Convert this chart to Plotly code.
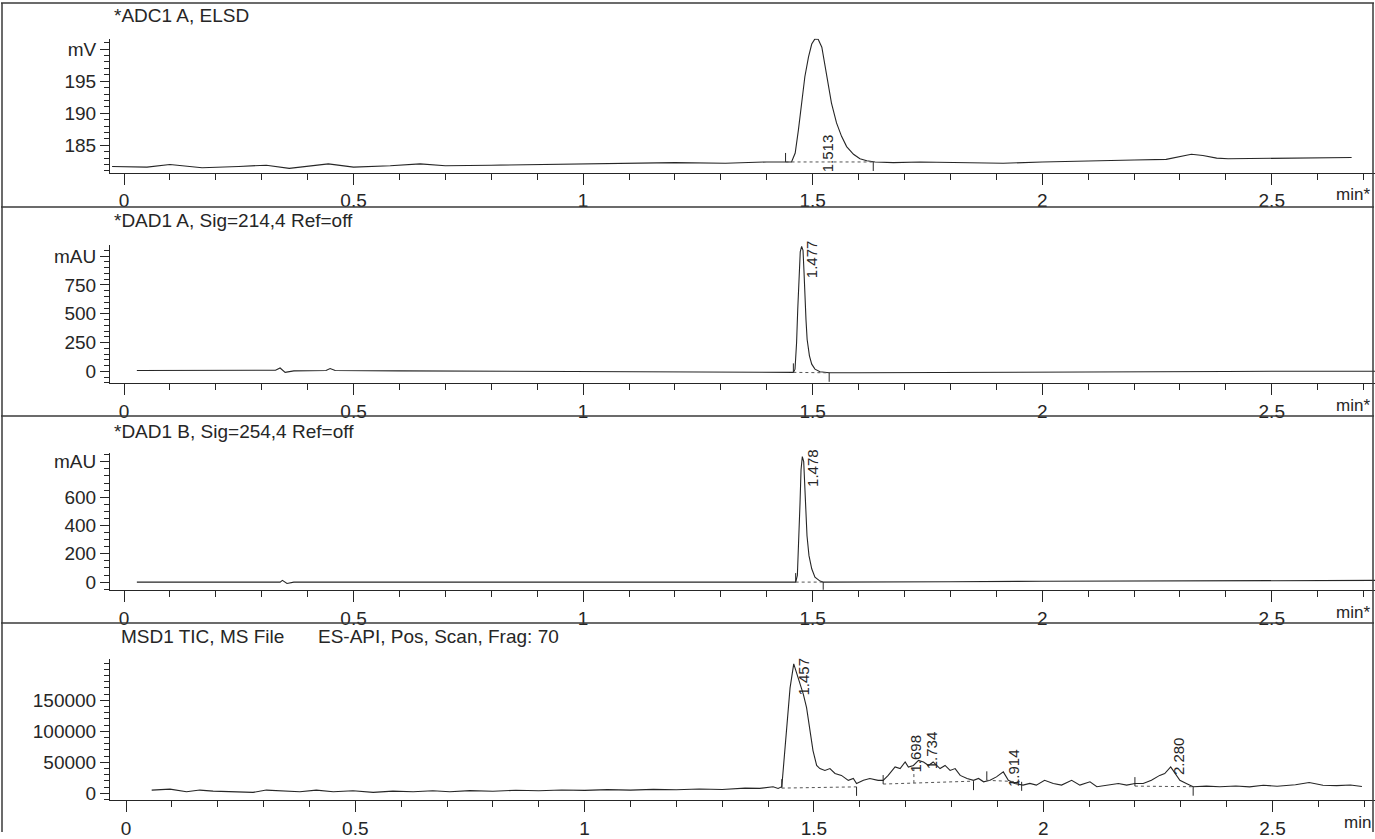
import plotly.graph_objects as go

W, H = 1375, 839

# ---------------- data ----------------
panel_titles = ["*ADC1 A, ELSD", "*DAD1 A, Sig=214,4 Ref=off", "*DAD1 B, Sig=254,4 Ref=off",
                "MSD1 TIC, MS File", "ES-API, Pos, Scan, Frag: 70"]

elsd_t = [-0.026, 0.05, 0.10, 0.17, 0.25, 0.31, 0.36, 0.445, 0.50, 0.58, 0.645, 0.70, 0.80, 0.90, 1.00,
          1.10, 1.20, 1.31, 1.40, 1.454, 1.462, 1.469, 1.476, 1.483, 1.491, 1.498, 1.505, 1.512, 1.520,
          1.527, 1.534, 1.541, 1.552, 1.563, 1.574, 1.589, 1.603, 1.618, 1.636, 1.676, 1.734, 1.80, 1.915,
          2.00, 2.10, 2.20, 2.27, 2.30, 2.325, 2.35, 2.38, 2.405, 2.50, 2.60, 2.674]
elsd_v = [181.7, 181.6, 182.0, 181.5, 181.7, 181.9, 181.4, 182.1, 181.6, 181.8, 182.1, 181.8, 181.9, 182.0,
          182.1, 182.2, 182.3, 182.2, 182.4, 182.4, 183.8, 187.4, 191.6, 195.7, 198.8, 200.8, 201.6, 201.55,
          200.3, 197.2, 194.1, 191.6, 188.5, 186.4, 184.8, 183.6, 182.9, 182.6, 182.4, 182.3, 182.4, 182.3,
          182.2, 182.4, 182.6, 182.7, 182.8, 183.3, 183.6, 183.4, 183.0, 182.9, 183.0, 183.0, 183.1]

dada_t = [0.028, 0.20, 0.33, 0.340, 0.351, 0.37, 0.44, 0.449, 0.46, 0.60, 0.80, 1.00, 1.20, 1.40, 1.458,
          1.4616, 1.465, 1.4675, 1.470, 1.473, 1.476, 1.479, 1.481, 1.483, 1.4855, 1.488, 1.493, 1.498,
          1.505, 1.516, 1.536, 1.60, 1.70, 1.80, 2.00, 2.20, 2.40, 2.60, 2.725]
dada_v = [8, 6, 10, 30, -8, 5, 8, 25, 8, 5, 2, -3, -6, -8, -8, 20, 249, 535, 850, 1037, 1085, 1051, 879,
          621, 449, 277, 135, 63, 20, -3, -12, -12, -10, -7, -3, 0, 0, 2, 2]

dadb_t = [0.028, 0.20, 0.34, 0.345, 0.355, 0.37, 0.50, 0.70, 1.00, 1.20, 1.40, 1.463, 1.4667, 1.4696,
          1.4725, 1.4747, 1.4775, 1.4805, 1.4827, 1.4849, 1.4877, 1.492, 1.498, 1.505, 1.516, 1.523, 1.60,
          1.80, 2.00, 2.20, 2.40, 2.60, 2.725]
dadb_v = [0, 1, 0, 12, -10, 0, 1, 0, 0, 0, 0, 0, 47, 257, 560, 794, 887, 852, 677, 490, 327, 187, 94, 35,
          7, 0, 0, 3, 6, 8, 10, 12, 12]

tic_t = [0.056, 0.096, 0.132, 0.161, 0.190, 0.234, 0.277, 0.306, 0.343, 0.379,
         0.415, 0.452, 0.495, 0.539, 0.582, 0.626, 0.669, 0.706, 0.75, 0.80,
         0.85, 0.90, 0.95, 1.00, 1.05, 1.10, 1.15, 1.20, 1.25, 1.30,
         1.35, 1.382, 1.411, 1.422, 1.430, 1.440, 1.448, 1.456, 1.466, 1.477,
         1.484, 1.491, 1.498, 1.506, 1.513, 1.524, 1.535, 1.546, 1.560, 1.575,
         1.586, 1.593, 1.608, 1.622, 1.640, 1.651, 1.662, 1.677, 1.688, 1.699,
         1.706, 1.717, 1.728, 1.739, 1.750, 1.760, 1.775, 1.786, 1.797, 1.808,
         1.819, 1.834, 1.848, 1.859, 1.870, 1.884, 1.898, 1.913, 1.924, 1.938,
         1.956, 1.971, 1.985, 2.003, 2.022, 2.040, 2.062, 2.080, 2.102, 2.117,
         2.138, 2.164, 2.182, 2.200, 2.218, 2.236, 2.254, 2.265, 2.278, 2.287,
         2.298, 2.312, 2.327, 2.356, 2.385, 2.42, 2.45, 2.48, 2.51, 2.55,
         2.58, 2.61, 2.64, 2.67, 2.695]
tic_v = [5300, 6900, 2700, 5300, 3700, 2700, 1600, 5300, 3700, 2700,
         5300, 2700, 4300, 1600, 3700, 2700, 4300, 2700, 4500, 3500,
         5000, 4200, 5500, 4800, 6000, 5200, 6500, 5800, 7000, 6200,
         8500, 8000, 10700, 8000, 10700, 95800, 170000, 208600, 186000, 159600,
         138000, 106000, 69000, 45000, 40000, 37000, 40000, 32000, 29000, 21000,
         24000, 16000, 21000, 24000, 21000, 21000, 29000, 42500, 40000, 50600,
         42500, 45000, 53000, 50600, 45000, 50600, 40000, 45000, 37000, 40000,
         29000, 24000, 21000, 24000, 18600, 21000, 26600, 34600, 21000, 16000,
         13300, 16000, 13300, 21000, 16000, 13300, 21000, 13300, 18600, 10700,
         13300, 16000, 13300, 16000, 16000, 21000, 29000, 32000, 42500, 32000,
         21000, 16000, 10700, 11700, 10700, 12000, 10500, 13000, 11500, 14000,
         17500, 13000, 12500, 13500, 11000]

# integration baselines (segments: t0, t1, v0, v1)
elsd_base = [(1.441, 1.632, 182.4, 182.4)]
dada_base = [(1.458, 1.536, -8, -12)]
dadb_base = [(1.463, 1.523, 0, 0)]
tic_base = [(1.430, 1.593, 8500, 10500), (1.651, 1.848, 15000, 19700),
            (1.877, 1.953, 21000, 18600), (2.200, 2.327, 11700, 10700)]
tic_drop = [(1.718, 16600, 42600)]

# peak start / end marks (t, v)
elsd_start, elsd_end = [(1.441, 182.4)], [(1.632, 182.4)]
dada_start, dada_end = [(1.458, -8)], [(1.536, -12)]
dadb_start, dadb_end = [(1.463, 0)], [(1.523, 0)]
tic_start = [(1.430, 8500), (1.651, 15000), (1.877, 21000), (2.200, 11700)]
tic_end = [(1.593, 10500), (1.848, 19700), (1.953, 18600), (2.327, 10700)]

# retention-time labels (text, t, v)
elsd_labels = [("1.513", 1.534, 183.8)]
dada_labels = [("1.477", 1.498, 971)]
dadb_labels = [("1.478", 1.498, 805)]
tic_labels = [("1.457", 1.477, 188800), ("1.698", 1.722, 63800), ("1.734", 1.757, 69100),
              ("1.914", 1.935, 41500), ("2.280", 2.294, 60100)]

# y ticks
elsd_ticks, elsd_ticktext = [185, 190, 195, 200], ["185", "190", "195", "mV"]
dada_ticks, dada_ticktext = [0, 250, 500, 750, 1000], ["0", "250", "500", "750", "mAU"]
dadb_ticks, dadb_ticktext = [0, 200, 400, 600, 850], ["0", "200", "400", "600", "mAU"]
tic_ticks, tic_ticktext = [0, 50000, 100000, 150000], ["0", "50000", "100000", "150000"]

# ---------------- layout geometry (pixels of the page) ----------------
INK = "#262626"
FONT = "Liberation Sans, Arial, sans-serif"

def py2paper(py):
    return 1 - py / H

def px2paper(px):
    return px / W

x_left_px = 110
panels = [
    dict(top=38, bot=173.3, yr=[180.734, 201.646], xr=[-0.0305, 2.7249], minor=1, min_lab="min*",
         t=elsd_t, v=elsd_v, base=elsd_base, st=elsd_start, en=elsd_end, lab=elsd_labels,
         tv=elsd_ticks, tt=elsd_ticktext),
    dict(top=246.7, bot=386.0, yr=[-103.1, 1093.6], xr=[-0.0305, 2.7249], minor=50, min_lab="min*",
         t=dada_t, v=dada_v, base=dada_base, st=dada_start, en=dada_end, lab=dada_labels,
         tv=dada_ticks, tt=dada_ticktext),
    dict(top=456.0, bot=594.5, yr=[-54.6, 914.9], xr=[-0.0305, 2.7249], minor=50, min_lab="min*",
         t=dadb_t, v=dadb_v, base=dadb_base, st=dadb_start, en=dadb_end, lab=dadb_labels,
         tv=dadb_ticks, tt=dadb_ticktext),
    dict(top=664.0, bot=806.7, yr=[-10693, 217056], xr=[-0.0349, 2.7235], minor=10000, min_lab="min",
         t=tic_t, v=tic_v, base=tic_base, st=tic_start, en=tic_end, lab=tic_labels,
         tv=tic_ticks, tt=tic_ticktext),
]

fig = go.Figure()
annotations = []
shapes = []

for i, p in enumerate(panels):
    n = "" if i == 0 else str(i + 1)
    xa, ya = "x" + n, "y" + n
    fig.add_trace(go.Scatter(x=p["t"], y=p["v"], mode="lines", xaxis=xa, yaxis=ya,
                             line=dict(color=INK, width=1.1), hoverinfo="skip", showlegend=False))
    bx, by = [], []
    for (t0, t1, v0, v1) in p["base"]:
        bx += [t0, t1, None]
        by += [v0, v1, None]
    if i == 3:
        for (t0, v0, v1) in tic_drop:
            bx += [t0, t0, None]
            by += [v0, v1, None]
    fig.add_trace(go.Scatter(x=bx, y=by, mode="lines", xaxis=xa, yaxis=ya,
                             line=dict(color="#555555", width=1, dash="dot"),
                             hoverinfo="skip", showlegend=False))
    for (t0, v0) in p["st"]:
        shapes.append(dict(type="line", xref=xa, yref=ya, ysizemode="pixel", yanchor=v0,
                           x0=t0, x1=t0, y0=0, y1=9, line=dict(color=INK, width=1)))
    for (t0, v0) in p["en"]:
        shapes.append(dict(type="line", xref=xa, yref=ya, ysizemode="pixel", yanchor=v0,
                           x0=t0, x1=t0, y0=0, y1=-9, line=dict(color=INK, width=1)))
    for (txt, t0, v0) in p["lab"]:
        annotations.append(dict(text=txt, x=t0, y=v0, xref=xa, yref=ya, showarrow=False,
                                textangle=-90, xanchor="center", yanchor="middle",
                                font=dict(family=FONT, size=15, color=INK)))
    dom_y = [py2paper(p["bot"]), py2paper(p["top"])]
    fig.layout["xaxis" + n] = dict(
        domain=[px2paper(x_left_px), 1], range=p["xr"], anchor=ya,
        showline=True, linecolor=INK, linewidth=1, mirror=False,
        ticks="outside", ticklen=11, tickwidth=1, tickcolor=INK,
        tickmode="linear", tick0=0, dtick=0.5,
        minor=dict(tickmode="linear", tick0=0, dtick=0.1, ticklen=6, ticks="outside",
                   tickcolor=INK, tickwidth=1, showgrid=False),
        tickfont=dict(family=FONT, size=19, color=INK),
        showgrid=False, zeroline=False, fixedrange=True)
    fig.layout["yaxis" + n] = dict(
        domain=dom_y, range=p["yr"], anchor=xa,
        showline=True, linecolor=INK, linewidth=1,
        ticks="outside", ticklen=9, tickwidth=1, tickcolor=INK,
        tickmode="array", tickvals=p["tv"], ticktext=p["tt"],
        minor=dict(tickmode="linear", tick0=0, dtick=p["minor"], ticklen=5, ticks="outside",
                   tickcolor=INK, tickwidth=1, showgrid=False),
        tickfont=dict(family=FONT, size=19, color=INK), ticklabelstandoff=0,
        showgrid=False, zeroline=False, fixedrange=True)
    annotations.append(dict(text=p["min_lab"], x=px2paper(1372 if i < 3 else 1342),
                            y=py2paper(p["bot"] + 22.5), xref="paper", yref="paper",
                            xanchor="right" if i < 3 else "left", yanchor="middle", showarrow=False,
                            font=dict(family=FONT, size=17, color=INK)))

title_pos = [(112, 15), (112, 222), (112, 435), (119, 642), (316, 642)]
for txt, (tx, ty) in zip(panel_titles, title_pos):
    annotations.append(dict(text=txt, x=px2paper(tx), y=py2paper(ty), xref="paper", yref="paper",
                            xanchor="left", yanchor="middle", showarrow=False,
                            font=dict(family=FONT, size=19, color=INK)))

for sy in [2, 208, 419, 628]:
    shapes.append(dict(type="line", xref="paper", yref="paper", x0=px2paper(1), x1=px2paper(1374),
                       y0=py2paper(sy), y1=py2paper(sy), line=dict(color="#3a3a3a", width=1.5)))
for sx in [2, 1373]:
    shapes.append(dict(type="line", xref="paper", yref="paper", x0=px2paper(sx), x1=px2paper(sx),
                       y0=py2paper(2), y1=py2paper(839), line=dict(color="#3a3a3a", width=1.5)))

fig.update_layout(width=W, height=H, margin=dict(l=0, r=0, t=0, b=0),
                  paper_bgcolor="white", plot_bgcolor="white",
                  annotations=annotations, shapes=shapes, showlegend=False,
                  font=dict(family=FONT, color=INK))

fig.write_html("out.html", config={"displayModeBar": False},
               post_script="document.body.style.margin='0px';document.body.style.overflow='hidden';")
